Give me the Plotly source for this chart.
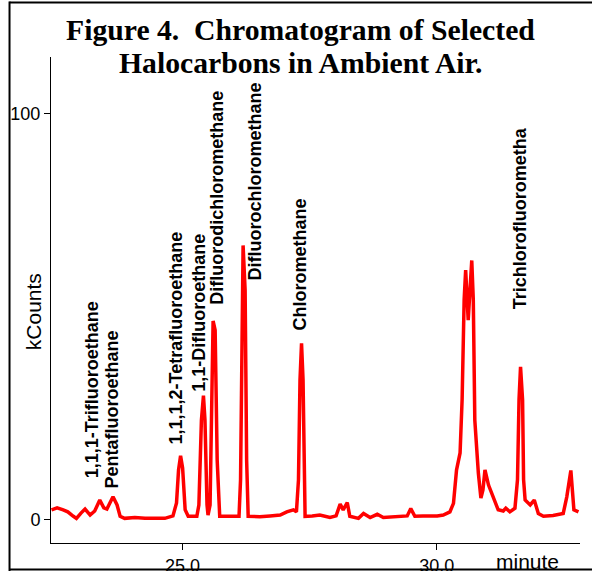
import plotly.graph_objects as go

# Chromatogram trace (minute, kCounts)
minutes = [22.42, 22.53, 22.65, 22.74, 22.85, 22.91, 23.00, 23.08, 23.18, 23.27,
           23.37, 23.45, 23.51, 23.63, 23.71, 23.77, 23.86, 24.06, 24.26, 24.45,
           24.65, 24.81, 24.88, 24.92, 24.96, 25.00, 25.05, 25.11, 25.28, 25.32,
           25.37, 25.41, 25.44, 25.48, 25.50, 25.54, 25.57, 25.60, 25.64, 25.68,
           25.73, 25.93, 26.11, 26.14, 26.17, 26.19, 26.23, 26.26, 26.29, 26.52,
           26.72, 26.92, 27.05, 27.18, 27.24, 27.28, 27.31, 27.34, 27.37, 27.40,
           27.41, 27.55, 27.70, 27.90, 28.02, 28.10, 28.16, 28.24, 28.29, 28.46,
           28.56, 28.69, 28.83, 28.95, 29.12, 29.28, 29.42, 29.49, 29.57, 29.73,
           29.87, 30.01, 30.13, 30.26, 30.33, 30.39, 30.46, 30.50, 30.54, 30.57,
           30.62, 30.66, 30.69, 30.72, 30.75, 30.82, 30.87, 30.91, 30.95, 31.02,
           31.11, 31.21, 31.31, 31.36, 31.44, 31.54, 31.59, 31.62, 31.65, 31.69,
           31.71, 31.74, 31.84, 31.92, 32.00, 32.10, 32.29, 32.49, 32.56, 32.64,
           32.70, 32.79]
kcounts = [2.5, 3.0, 2.5, 2.0, 0.9, 0.4, 1.7, 2.7, 1.2, 2.2,
           4.9, 3.0, 2.7, 5.7, 3.7, 0.9, 0.4, 0.6, 0.4, 0.5,
           0.4, 1.0, 4.2, 12.3, 15.8, 12.8, 2.5, 0.9, 0.9, 3.7,
           24.6, 30.6, 24.6, 3.7, 1.2, 3.7, 34.5, 49.0, 46.7, 14.8,
           0.9, 0.8, 0.9, 9.9, 54.2, 67.6, 56.6, 14.7, 0.9, 0.8,
           1.0, 1.2, 2.0, 2.5, 2.0, 9.9, 34.5, 43.5, 34.5, 9.9,
           0.9, 1.0, 1.2, 0.6, 1.0, 3.9, 2.5, 4.3, 0.9, 0.4,
           1.6, 0.6, 1.4, 0.6, 0.8, 0.9, 1.0, 2.8, 0.9, 1.0,
           0.9, 1.0, 1.2, 2.0, 4.1, 12.3, 16.5, 29.6, 54.2, 61.5,
           49.2, 60.3, 63.9, 54.2, 24.6, 11.5, 5.4, 7.4, 12.3, 8.6,
           5.7, 2.5, 2.2, 2.9, 2.0, 2.9, 9.9, 29.6, 37.7, 29.6,
           9.9, 4.9, 3.7, 4.9, 1.6, 0.9, 1.1, 1.6, 5.7, 12.2,
           2.5, 2.0]

# Peak labels
peak_names = ["1,1,1-Trifluoroethane", "Pentafluoroethane", "1,1,1,2-Tetrafluoroethane",
              "1,1-Difluoroethane", "Difluorodichloromethane", "Difluorochloromethane",
              "Chloromethane", "Trichlorofluorometha"]
label_minutes = [23.22, 23.62, 24.87, 25.32, 25.66, 26.42, 27.31, 31.64]
label_kcounts = [32.0, 27.3, 44.7, 51.0, 79.4, 83.3, 62.9, 74.3]

x_ticks = [25, 30]
x_ticktext = ["25.0", "30.0"]
y_ticks = [0, 100]
y_ticktext = ["0", "100"]

fig = go.Figure()
fig.add_trace(go.Scatter(x=minutes, y=kcounts, mode="lines",
                         line=dict(color="#ff0000", width=3.5), showlegend=False))

annotations = []
for name, t, v in zip(peak_names, label_minutes, label_kcounts):
    annotations.append(dict(x=t, y=v, xref="x", yref="y", text="<b>" + name + "</b>",
                            textangle=-90, showarrow=False, xanchor="center", yanchor="middle",
                            font=dict(family="Liberation Sans, Arial", size=18, color="black")))

annotations += [
    dict(x=0.4707, y=1.0556, xref="paper", yref="paper",
         text="<b>Figure 4.\u00a0 Chromatogram of Selected</b>", showarrow=False,
         xanchor="center", yanchor="middle",
         font=dict(family="Liberation Serif, Times New Roman", size=29.7, color="black")),
    dict(x=0.4707, y=0.9877, xref="paper", yref="paper",
         text="<b>Halocarbons in Ambient Air.</b>", showarrow=False,
         xanchor="center", yanchor="middle",
         font=dict(family="Liberation Serif, Times New Roman", size=29.7, color="black")),
    dict(x=-0.034, y=0.475, xref="paper", yref="paper", text="kCounts", textangle=-90,
         showarrow=False, xanchor="center", yanchor="middle",
         font=dict(family="Liberation Sans, Arial", size=21, color="black")),
    dict(x=0.900, y=-0.039, xref="paper", yref="paper", text="minute",
         showarrow=False, xanchor="center", yanchor="middle",
         font=dict(family="Liberation Sans, Arial", size=21, color="black")),
]

shapes = [
    dict(type="line", xref="paper", yref="paper", x0=-0.0784, x1=1.03, y0=1.1121, y1=1.1121,
         line=dict(color="black", width=2)),
    dict(type="line", xref="paper", yref="paper", x0=-0.0784, x1=-0.0784, y0=1.114, y1=-0.06,
         line=dict(color="black", width=2)),
    dict(type="line", xref="paper", yref="paper", x0=-0.0784, x1=1.03, y0=-0.0545, y1=-0.0545,
         line=dict(color="black", width=2)),
]

fig.update_layout(
    width=592, height=571,
    margin=dict(l=51, r=12, t=57, b=28, autoexpand=False),
    paper_bgcolor="white", plot_bgcolor="white",
    annotations=annotations, shapes=shapes,
    font=dict(family="Liberation Sans, Arial", size=18, color="black"),
)
fig.update_xaxes(range=[22.41, 32.82], tickvals=x_ticks, ticktext=x_ticktext,
                 showgrid=False, zeroline=False, showline=True, linecolor="black", linewidth=1,
                 ticks="outside", ticklen=6, tickcolor="black", automargin=False,
                 tickfont=dict(family="Liberation Sans, Arial", size=18, color="black"))
fig.update_yaxes(range=[-5.67, 114.0], tickvals=y_ticks, ticktext=y_ticktext,
                 showgrid=False, zeroline=False, showline=True, linecolor="black", linewidth=1,
                 ticks="outside", ticklen=6, tickcolor="black", automargin=False,
                 tickfont=dict(family="Liberation Sans, Arial", size=18, color="black"))

fig.write_html("out.html", config={"displayModeBar": False},
               post_script="document.body.style.margin='0';document.body.style.overflow='hidden';")
